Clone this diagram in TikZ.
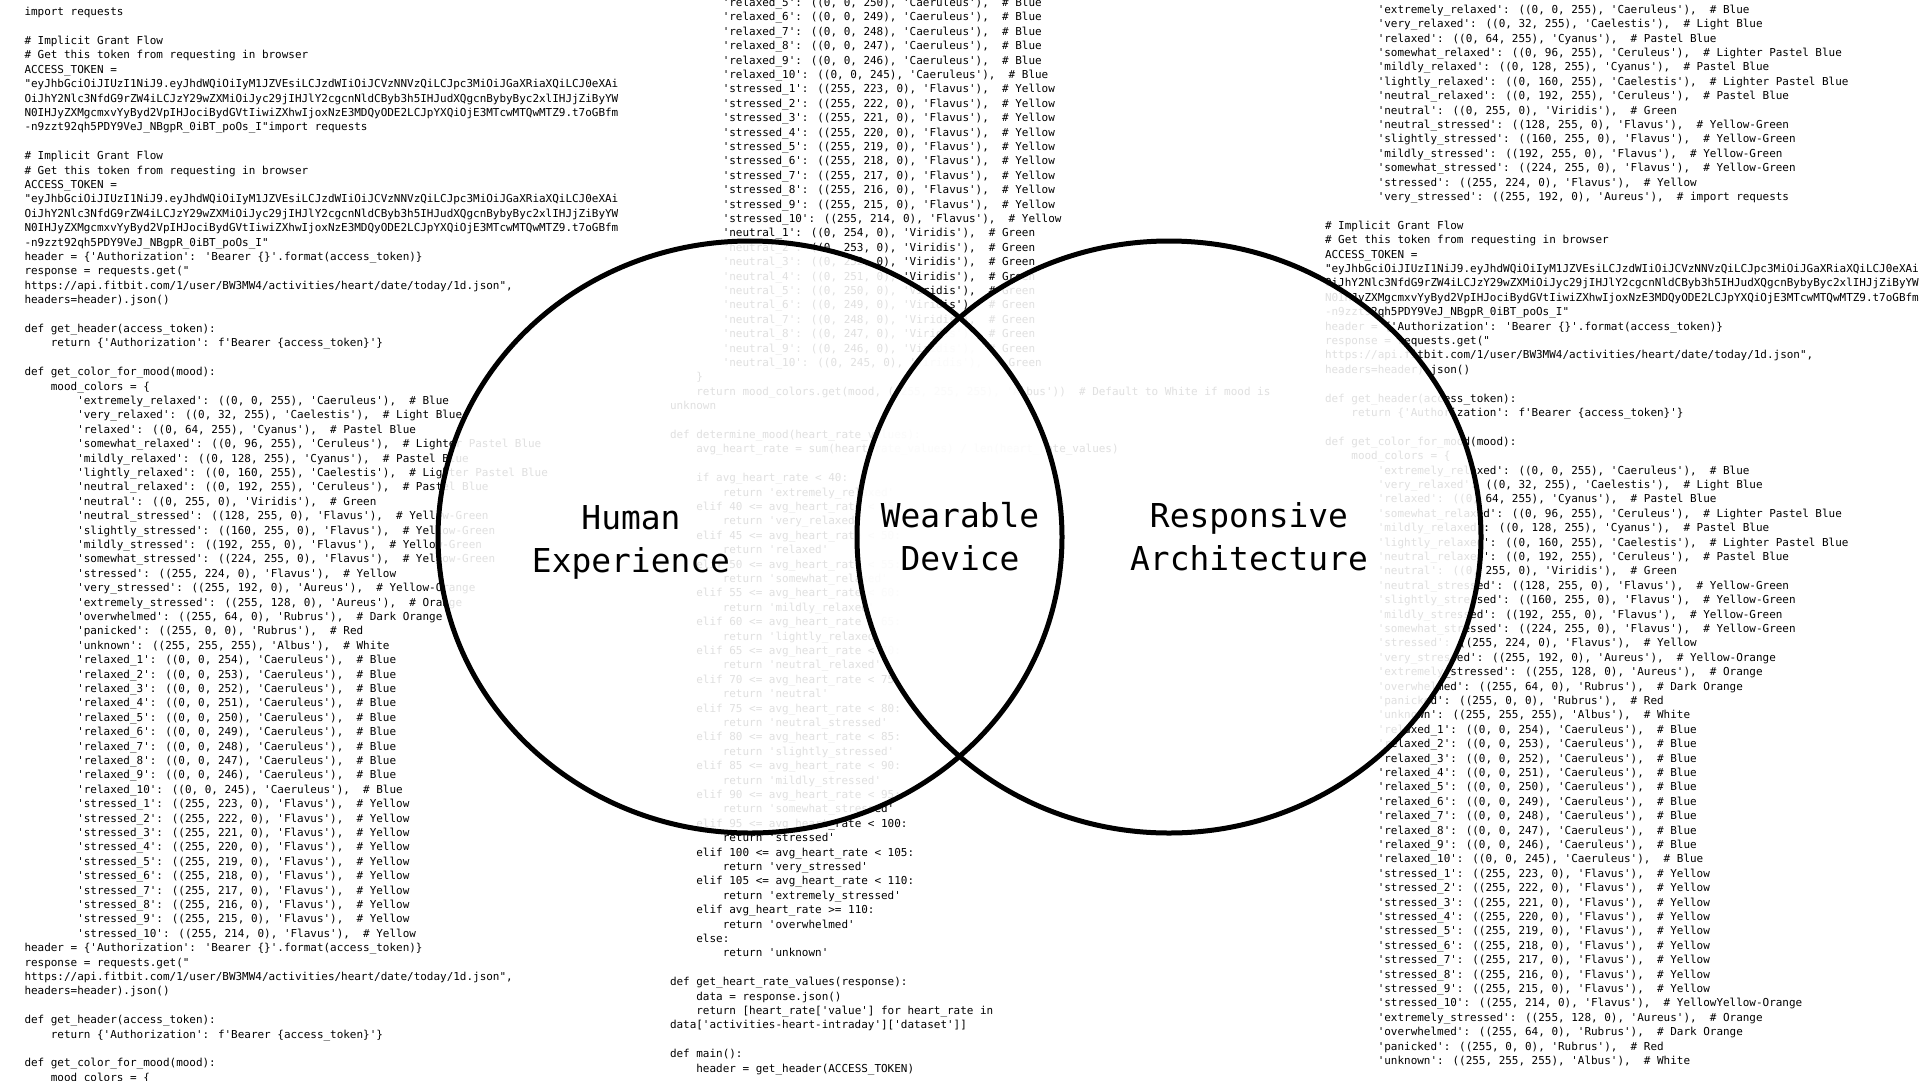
\documentclass[tikz,border=0pt]{standalone}
\usepackage{fontspec}
\newfontfamily\codefont{DejaVu Sans Mono}
\usetikzlibrary{shapes.geometric}
\newcommand\FourSp{~~~~}
\newcommand\EightSp{~~~~~~~~}
\newcommand\BL{\mbox{}}
\newcommand\FirstStrut{\rule{0pt}{10pt}}
\newcommand\LabStrut{\rule{0pt}{30pt}}
\newcommand\Mood[4]{\EightSp'#1': ((#2), '#3'),~~\# #4}
\begin{document}
\begin{tikzpicture}[x=1pt,y=-1pt,
  code/.style={anchor=north west, inner sep=0pt, outer sep=0pt, align=left, text=black,
    font=\codefont\fontsize{10.96}{14.4}\selectfont},
  veil/.style={fill=white, fill opacity=0.88},
  ring/.style={ellipse, draw=black, line width=5pt, minimum width=624pt, minimum height=592pt, inner sep=0pt, outer sep=0pt},
  vlabel/.style={anchor=north, align=center, inner sep=0pt, text=black,
    font=\codefont\fontsize{32.9}{43.2}\selectfont}]
\useasboundingbox (0,0) rectangle (1920,1080);
\fill[white] (0,0) rectangle (1920,1080);

% ---------------- left column of code ----------------
\node[code] (leftcode) at (24.5,5.7) {\FirstStrut import requests\\
\BL\\
\# Implicit Grant Flow\\
\# Get this token from requesting in browser\\
ACCESS\_TOKEN =\\
"eyJhbGciOiJIUzI1NiJ9.eyJhdWQiOiIyM1JZVEsiLCJzdWIiOiJCVzNNVzQiLCJpc3MiOiJGaXRiaXQiLCJ0eXAi\\
OiJhY2Nlc3NfdG9rZW4iLCJzY29wZXMiOiJyc29jIHJlY2cgcnNldCByb3h5IHJudXQgcnBybyByc2xlIHJjZiByYW\\
N0IHJyZXMgcmxvYyByd2VpIHJociBydGVtIiwiZXhwIjoxNzE3MDQyODE2LCJpYXQiOjE3MTcwMTQwMTZ9.t7oGBfm\\
-n9zzt92qh5PDY9VeJ\_NBgpR\_0iBT\_poOs\_I"import requests\\
\BL\\
\# Implicit Grant Flow\\
\# Get this token from requesting in browser\\
ACCESS\_TOKEN =\\
"eyJhbGciOiJIUzI1NiJ9.eyJhdWQiOiIyM1JZVEsiLCJzdWIiOiJCVzNNVzQiLCJpc3MiOiJGaXRiaXQiLCJ0eXAi\\
OiJhY2Nlc3NfdG9rZW4iLCJzY29wZXMiOiJyc29jIHJlY2cgcnNldCByb3h5IHJudXQgcnBybyByc2xlIHJjZiByYW\\
N0IHJyZXMgcmxvYyByd2VpIHJociBydGVtIiwiZXhwIjoxNzE3MDQyODE2LCJpYXQiOjE3MTcwMTQwMTZ9.t7oGBfm\\
-n9zzt92qh5PDY9VeJ\_NBgpR\_0iBT\_poOs\_I"\\
header = \{'Authorization': 'Bearer \{\}'.format(access\_token)\}\\
response = requests.get("\\
https://api.fitbit.com/1/user/BW3MW4/activities/heart/date/today/1d.json",\\
headers=header).json()\\
\BL\\
def get\_header(access\_token):\\
\FourSp return \{'Authorization': f'Bearer \{access\_token\}'\}\\
\BL\\
def get\_color\_for\_mood(mood):\\
\FourSp mood\_colors = \{\\
\Mood{extremely\_relaxed}{0, 0, 255}{Caeruleus}{Blue}\\
\Mood{very\_relaxed}{0, 32, 255}{Caelestis}{Light Blue}\\
\Mood{relaxed}{0, 64, 255}{Cyanus}{Pastel Blue}\\
\Mood{somewhat\_relaxed}{0, 96, 255}{Ceruleus}{Lighter Pastel Blue}\\
\Mood{mildly\_relaxed}{0, 128, 255}{Cyanus}{Pastel Blue}\\
\Mood{lightly\_relaxed}{0, 160, 255}{Caelestis}{Lighter Pastel Blue}\\
\Mood{neutral\_relaxed}{0, 192, 255}{Ceruleus}{Pastel Blue}\\
\Mood{neutral}{0, 255, 0}{Viridis}{Green}\\
\Mood{neutral\_stressed}{128, 255, 0}{Flavus}{Yellow-Green}\\
\Mood{slightly\_stressed}{160, 255, 0}{Flavus}{Yellow-Green}\\
\Mood{mildly\_stressed}{192, 255, 0}{Flavus}{Yellow-Green}\\
\Mood{somewhat\_stressed}{224, 255, 0}{Flavus}{Yellow-Green}\\
\Mood{stressed}{255, 224, 0}{Flavus}{Yellow}\\
\Mood{very\_stressed}{255, 192, 0}{Aureus}{Yellow-Orange}\\
\Mood{extremely\_stressed}{255, 128, 0}{Aureus}{Orange}\\
\Mood{overwhelmed}{255, 64, 0}{Rubrus}{Dark Orange}\\
\Mood{panicked}{255, 0, 0}{Rubrus}{Red}\\
\Mood{unknown}{255, 255, 255}{Albus}{White}\\
\Mood{relaxed\_1}{0, 0, 254}{Caeruleus}{Blue}\\
\Mood{relaxed\_2}{0, 0, 253}{Caeruleus}{Blue}\\
\Mood{relaxed\_3}{0, 0, 252}{Caeruleus}{Blue}\\
\Mood{relaxed\_4}{0, 0, 251}{Caeruleus}{Blue}\\
\Mood{relaxed\_5}{0, 0, 250}{Caeruleus}{Blue}\\
\Mood{relaxed\_6}{0, 0, 249}{Caeruleus}{Blue}\\
\Mood{relaxed\_7}{0, 0, 248}{Caeruleus}{Blue}\\
\Mood{relaxed\_8}{0, 0, 247}{Caeruleus}{Blue}\\
\Mood{relaxed\_9}{0, 0, 246}{Caeruleus}{Blue}\\
\Mood{relaxed\_10}{0, 0, 245}{Caeruleus}{Blue}\\
\Mood{stressed\_1}{255, 223, 0}{Flavus}{Yellow}\\
\Mood{stressed\_2}{255, 222, 0}{Flavus}{Yellow}\\
\Mood{stressed\_3}{255, 221, 0}{Flavus}{Yellow}\\
\Mood{stressed\_4}{255, 220, 0}{Flavus}{Yellow}\\
\Mood{stressed\_5}{255, 219, 0}{Flavus}{Yellow}\\
\Mood{stressed\_6}{255, 218, 0}{Flavus}{Yellow}\\
\Mood{stressed\_7}{255, 217, 0}{Flavus}{Yellow}\\
\Mood{stressed\_8}{255, 216, 0}{Flavus}{Yellow}\\
\Mood{stressed\_9}{255, 215, 0}{Flavus}{Yellow}\\
\Mood{stressed\_10}{255, 214, 0}{Flavus}{Yellow}\\
header = \{'Authorization': 'Bearer \{\}'.format(access\_token)\}\\
response = requests.get("\\
https://api.fitbit.com/1/user/BW3MW4/activities/heart/date/today/1d.json",\\
headers=header).json()\\
\BL\\
def get\_header(access\_token):\\
\FourSp return \{'Authorization': f'Bearer \{access\_token\}'\}\\
\BL\\
def get\_color\_for\_mood(mood):\\
\FourSp mood\_colors = \{};

% ---------------- middle column of code ----------------
\node[code] (midcode) at (670,-3.6) {\FirstStrut\Mood{relaxed\_5}{0, 0, 250}{Caeruleus}{Blue}\\
\Mood{relaxed\_6}{0, 0, 249}{Caeruleus}{Blue}\\
\Mood{relaxed\_7}{0, 0, 248}{Caeruleus}{Blue}\\
\Mood{relaxed\_8}{0, 0, 247}{Caeruleus}{Blue}\\
\Mood{relaxed\_9}{0, 0, 246}{Caeruleus}{Blue}\\
\Mood{relaxed\_10}{0, 0, 245}{Caeruleus}{Blue}\\
\Mood{stressed\_1}{255, 223, 0}{Flavus}{Yellow}\\
\Mood{stressed\_2}{255, 222, 0}{Flavus}{Yellow}\\
\Mood{stressed\_3}{255, 221, 0}{Flavus}{Yellow}\\
\Mood{stressed\_4}{255, 220, 0}{Flavus}{Yellow}\\
\Mood{stressed\_5}{255, 219, 0}{Flavus}{Yellow}\\
\Mood{stressed\_6}{255, 218, 0}{Flavus}{Yellow}\\
\Mood{stressed\_7}{255, 217, 0}{Flavus}{Yellow}\\
\Mood{stressed\_8}{255, 216, 0}{Flavus}{Yellow}\\
\Mood{stressed\_9}{255, 215, 0}{Flavus}{Yellow}\\
\Mood{stressed\_10}{255, 214, 0}{Flavus}{Yellow}\\
\Mood{neutral\_1}{0, 254, 0}{Viridis}{Green}\\
\Mood{neutral\_2}{0, 253, 0}{Viridis}{Green}\\
\Mood{neutral\_3}{0, 252, 0}{Viridis}{Green}\\
\Mood{neutral\_4}{0, 251, 0}{Viridis}{Green}\\
\Mood{neutral\_5}{0, 250, 0}{Viridis}{Green}\\
\Mood{neutral\_6}{0, 249, 0}{Viridis}{Green}\\
\Mood{neutral\_7}{0, 248, 0}{Viridis}{Green}\\
\Mood{neutral\_8}{0, 247, 0}{Viridis}{Green}\\
\Mood{neutral\_9}{0, 246, 0}{Viridis}{Green}\\
\Mood{neutral\_10}{0, 245, 0}{Viridis}{Green}\\
\FourSp\}\\
\FourSp return mood\_colors.get(mood, ((255, 255, 255), 'Albus'))~~\# Default to White if mood is\\
unknown\\
\BL\\
def determine\_mood(heart\_rate\_values):\\
\FourSp avg\_heart\_rate = sum(heart\_rate\_values) / len(heart\_rate\_values)\\
\BL\\
\FourSp if avg\_heart\_rate < 40:\\
\EightSp return 'extremely\_relaxed'\\
\FourSp elif 40 <= avg\_heart\_rate < 45:\\
\EightSp return 'very\_relaxed'\\
\FourSp elif 45 <= avg\_heart\_rate < 50:\\
\EightSp return 'relaxed'\\
\FourSp elif 50 <= avg\_heart\_rate < 55:\\
\EightSp return 'somewhat\_relaxed'\\
\FourSp elif 55 <= avg\_heart\_rate < 60:\\
\EightSp return 'mildly\_relaxed'\\
\FourSp elif 60 <= avg\_heart\_rate < 65:\\
\EightSp return 'lightly\_relaxed'\\
\FourSp elif 65 <= avg\_heart\_rate < 70:\\
\EightSp return 'neutral\_relaxed'\\
\FourSp elif 70 <= avg\_heart\_rate < 75:\\
\EightSp return 'neutral'\\
\FourSp elif 75 <= avg\_heart\_rate < 80:\\
\EightSp return 'neutral\_stressed'\\
\FourSp elif 80 <= avg\_heart\_rate < 85:\\
\EightSp return 'slightly\_stressed'\\
\FourSp elif 85 <= avg\_heart\_rate < 90:\\
\EightSp return 'mildly\_stressed'\\
\FourSp elif 90 <= avg\_heart\_rate < 95:\\
\EightSp return 'somewhat\_stressed'\\
\FourSp elif 95 <= avg\_heart\_rate < 100:\\
\EightSp return 'stressed'\\
\FourSp elif 100 <= avg\_heart\_rate < 105:\\
\EightSp return 'very\_stressed'\\
\FourSp elif 105 <= avg\_heart\_rate < 110:\\
\EightSp return 'extremely\_stressed'\\
\FourSp elif avg\_heart\_rate >= 110:\\
\EightSp return 'overwhelmed'\\
\FourSp else:\\
\EightSp return 'unknown'\\
\BL\\
def get\_heart\_rate\_values(response):\\
\FourSp data = response.json()\\
\FourSp return [heart\_rate['value'] for heart\_rate in\\
data['activities-heart-intraday']['dataset']]\\
\BL\\
def main():\\
\FourSp header = get\_header(ACCESS\_TOKEN)};

% ---------------- right column of code ----------------
\node[code] (rightcode) at (1325,3.3) {\FirstStrut\Mood{extremely\_relaxed}{0, 0, 255}{Caeruleus}{Blue}\\
\Mood{very\_relaxed}{0, 32, 255}{Caelestis}{Light Blue}\\
\Mood{relaxed}{0, 64, 255}{Cyanus}{Pastel Blue}\\
\Mood{somewhat\_relaxed}{0, 96, 255}{Ceruleus}{Lighter Pastel Blue}\\
\Mood{mildly\_relaxed}{0, 128, 255}{Cyanus}{Pastel Blue}\\
\Mood{lightly\_relaxed}{0, 160, 255}{Caelestis}{Lighter Pastel Blue}\\
\Mood{neutral\_relaxed}{0, 192, 255}{Ceruleus}{Pastel Blue}\\
\Mood{neutral}{0, 255, 0}{Viridis}{Green}\\
\Mood{neutral\_stressed}{128, 255, 0}{Flavus}{Yellow-Green}\\
\Mood{slightly\_stressed}{160, 255, 0}{Flavus}{Yellow-Green}\\
\Mood{mildly\_stressed}{192, 255, 0}{Flavus}{Yellow-Green}\\
\Mood{somewhat\_stressed}{224, 255, 0}{Flavus}{Yellow-Green}\\
\Mood{stressed}{255, 224, 0}{Flavus}{Yellow}\\
\Mood{very\_stressed}{255, 192, 0}{Aureus}{import requests}\\
\BL\\
\# Implicit Grant Flow\\
\# Get this token from requesting in browser\\
ACCESS\_TOKEN =\\
"eyJhbGciOiJIUzI1NiJ9.eyJhdWQiOiIyM1JZVEsiLCJzdWIiOiJCVzNNVzQiLCJpc3MiOiJGaXRiaXQiLCJ0eXAi\\
OiJhY2Nlc3NfdG9rZW4iLCJzY29wZXMiOiJyc29jIHJlY2cgcnNldCByb3h5IHJudXQgcnBybyByc2xlIHJjZiByYW\\
N0IHJyZXMgcmxvYyByd2VpIHJociBydGVtIiwiZXhwIjoxNzE3MDQyODE2LCJpYXQiOjE3MTcwMTQwMTZ9.t7oGBfm\\
-n9zzt92qh5PDY9VeJ\_NBgpR\_0iBT\_poOs\_I"\\
header = \{'Authorization': 'Bearer \{\}'.format(access\_token)\}\\
response = requests.get("\\
https://api.fitbit.com/1/user/BW3MW4/activities/heart/date/today/1d.json",\\
headers=header).json()\\
\BL\\
def get\_header(access\_token):\\
\FourSp return \{'Authorization': f'Bearer \{access\_token\}'\}\\
\BL\\
def get\_color\_for\_mood(mood):\\
\FourSp mood\_colors = \{\\
\Mood{extremely\_relaxed}{0, 0, 255}{Caeruleus}{Blue}\\
\Mood{very\_relaxed}{0, 32, 255}{Caelestis}{Light Blue}\\
\Mood{relaxed}{0, 64, 255}{Cyanus}{Pastel Blue}\\
\Mood{somewhat\_relaxed}{0, 96, 255}{Ceruleus}{Lighter Pastel Blue}\\
\Mood{mildly\_relaxed}{0, 128, 255}{Cyanus}{Pastel Blue}\\
\Mood{lightly\_relaxed}{0, 160, 255}{Caelestis}{Lighter Pastel Blue}\\
\Mood{neutral\_relaxed}{0, 192, 255}{Ceruleus}{Pastel Blue}\\
\Mood{neutral}{0, 255, 0}{Viridis}{Green}\\
\Mood{neutral\_stressed}{128, 255, 0}{Flavus}{Yellow-Green}\\
\Mood{slightly\_stressed}{160, 255, 0}{Flavus}{Yellow-Green}\\
\Mood{mildly\_stressed}{192, 255, 0}{Flavus}{Yellow-Green}\\
\Mood{somewhat\_stressed}{224, 255, 0}{Flavus}{Yellow-Green}\\
\Mood{stressed}{255, 224, 0}{Flavus}{Yellow}\\
\Mood{very\_stressed}{255, 192, 0}{Aureus}{Yellow-Orange}\\
\Mood{extremely\_stressed}{255, 128, 0}{Aureus}{Orange}\\
\Mood{overwhelmed}{255, 64, 0}{Rubrus}{Dark Orange}\\
\Mood{panicked}{255, 0, 0}{Rubrus}{Red}\\
\Mood{unknown}{255, 255, 255}{Albus}{White}\\
\Mood{relaxed\_1}{0, 0, 254}{Caeruleus}{Blue}\\
\Mood{relaxed\_2}{0, 0, 253}{Caeruleus}{Blue}\\
\Mood{relaxed\_3}{0, 0, 252}{Caeruleus}{Blue}\\
\Mood{relaxed\_4}{0, 0, 251}{Caeruleus}{Blue}\\
\Mood{relaxed\_5}{0, 0, 250}{Caeruleus}{Blue}\\
\Mood{relaxed\_6}{0, 0, 249}{Caeruleus}{Blue}\\
\Mood{relaxed\_7}{0, 0, 248}{Caeruleus}{Blue}\\
\Mood{relaxed\_8}{0, 0, 247}{Caeruleus}{Blue}\\
\Mood{relaxed\_9}{0, 0, 246}{Caeruleus}{Blue}\\
\Mood{relaxed\_10}{0, 0, 245}{Caeruleus}{Blue}\\
\Mood{stressed\_1}{255, 223, 0}{Flavus}{Yellow}\\
\Mood{stressed\_2}{255, 222, 0}{Flavus}{Yellow}\\
\Mood{stressed\_3}{255, 221, 0}{Flavus}{Yellow}\\
\Mood{stressed\_4}{255, 220, 0}{Flavus}{Yellow}\\
\Mood{stressed\_5}{255, 219, 0}{Flavus}{Yellow}\\
\Mood{stressed\_6}{255, 218, 0}{Flavus}{Yellow}\\
\Mood{stressed\_7}{255, 217, 0}{Flavus}{Yellow}\\
\Mood{stressed\_8}{255, 216, 0}{Flavus}{Yellow}\\
\Mood{stressed\_9}{255, 215, 0}{Flavus}{Yellow}\\
\Mood{stressed\_10}{255, 214, 0}{Flavus}{YellowYellow-Orange}\\
\Mood{extremely\_stressed}{255, 128, 0}{Aureus}{Orange}\\
\Mood{overwhelmed}{255, 64, 0}{Rubrus}{Dark Orange}\\
\Mood{panicked}{255, 0, 0}{Rubrus}{Red}\\
\Mood{unknown}{255, 255, 255}{Albus}{White}};

% ---------------- the two circles ----------------
\fill[veil] (750,537) ellipse [x radius=312, y radius=296];
\fill[veil] (1169,537) ellipse [x radius=312, y radius=296];
\node[ring] (human) at (750,537) {};
\node[ring] (responsive) at (1169,537) {};

% ---------------- labels ----------------
\node[vlabel] (hxlabel) at (631,499) {\LabStrut Human\\Experience};
\node[vlabel] (wdlabel) at (960,497) {\LabStrut Wearable\\Device};
\node[vlabel] (ralabel) at (1249,497) {\LabStrut Responsive\\Architecture};
\end{tikzpicture}
\end{document}
